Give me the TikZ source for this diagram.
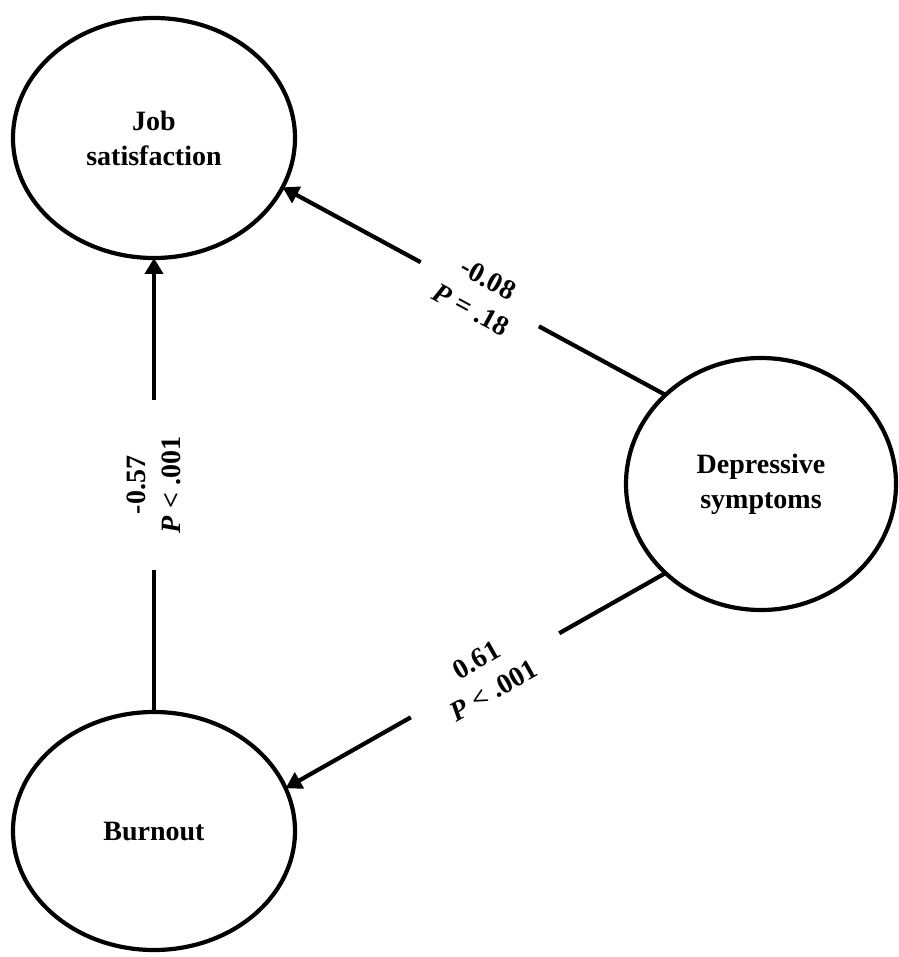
\documentclass[tikz,border=0pt]{standalone}
\usepackage{fontspec}
\setmainfont{Liberation Serif}
\usetikzlibrary{shapes.geometric,arrows.meta}
\begin{document}
\begin{tikzpicture}[x=1pt,y=-1pt,
  latent/.style={ellipse,draw,line width=4.2pt,inner sep=0pt,outer sep=0pt,align=center,
    font=\fontsize{28}{35}\selectfont\bfseries},
  pathline/.style={line width=4.2pt,-{Triangle[length=16pt,width=18pt]}},
  lbl/.style={fill=white,sloped,align=center,inner ysep=1pt,
    font=\fontsize{28}{35}\selectfont\bfseries}]
\fill[white] (0,0) rectangle (898,957);
\useasboundingbox (0,0) rectangle (898,957);
\node[latent,minimum width=282pt,minimum height=240pt] (job) at (154,138) {Job\\satisfaction};
\node[latent,minimum width=282pt,minimum height=238pt] (burn) at (154,831) {Burnout};
\node[latent,minimum width=270pt,minimum height=252pt] (dep) at (761,484) {Depressive\\symptoms};
\draw[pathline] (dep.137.5) -- node[lbl,pos=0.485,inner xsep=26pt] {-0.08\\\textit{P} = .18} (job.-21.7);
\draw[pathline] (burn.north) -- node[lbl,pos=0.5,inner xsep=37pt] {-0.57\\\textit{P} < .001} (job.south);
\draw[pathline] (dep.223) -- node[lbl,pos=0.475,inner xsep=37pt] {0.61\\\textit{P} < .001} (burn.18.8);
\end{tikzpicture}
\end{document}
